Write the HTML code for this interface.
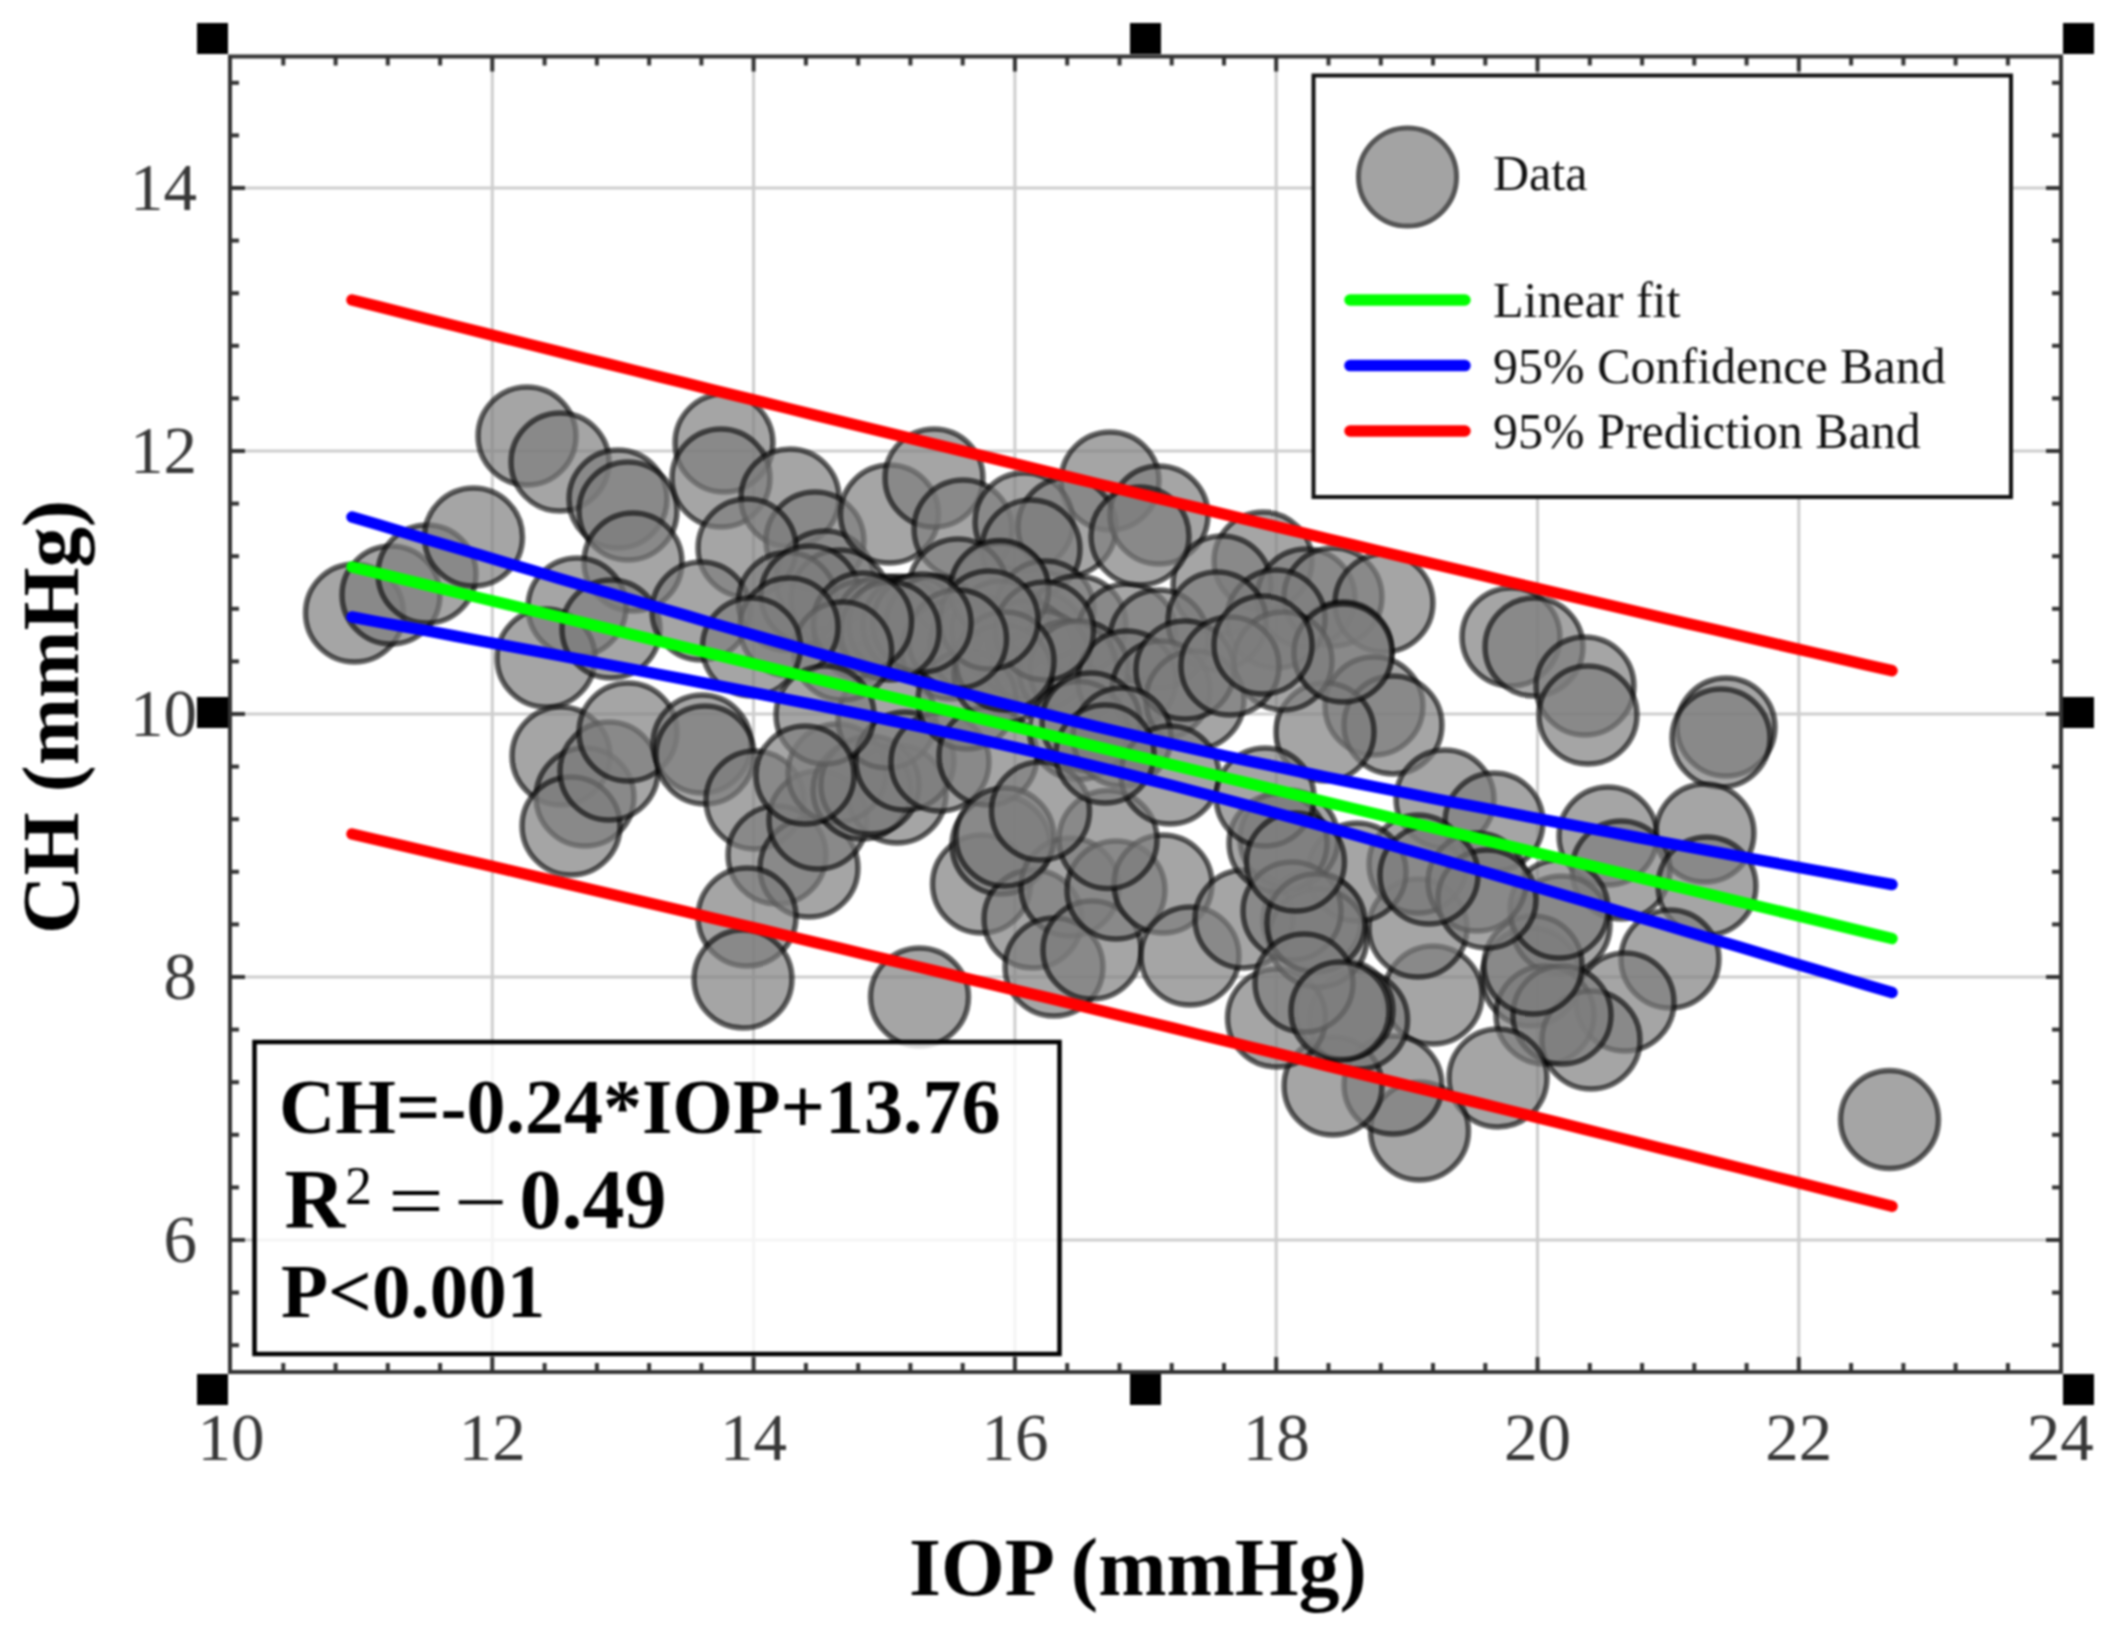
<!DOCTYPE html>
<html><head><meta charset="utf-8"><title>CH vs IOP</title>
<style>html,body{margin:0;padding:0;background:#fff;overflow:hidden}svg{display:block}#w{filter:blur(1px)}
text{font-family:"Liberation Serif","Times New Roman",serif}</style></head>
<body><div id="w"><svg width="2120" height="1634" viewBox="0 0 2120 1634" xmlns="http://www.w3.org/2000/svg">
<rect width="2120" height="1634" fill="#fff"/>
<g stroke="#cdcdcd" stroke-width="3"><line x1="492.3" y1="56.5" x2="492.3" y2="1372"/><line x1="753.6" y1="56.5" x2="753.6" y2="1372"/><line x1="1014.9" y1="56.5" x2="1014.9" y2="1372"/><line x1="1276.2" y1="56.5" x2="1276.2" y2="1372"/><line x1="1537.5" y1="56.5" x2="1537.5" y2="1372"/><line x1="1798.8" y1="56.5" x2="1798.8" y2="1372"/><line x1="230" y1="1240.0" x2="2061" y2="1240.0"/><line x1="230" y1="977.0" x2="2061" y2="977.0"/><line x1="230" y1="714.0" x2="2061" y2="714.0"/><line x1="230" y1="451.0" x2="2061" y2="451.0"/><line x1="230" y1="188.0" x2="2061" y2="188.0"/></g>
<g fill="#7c7c7c" fill-opacity="0.69" stroke="#000" stroke-opacity="0.6" stroke-width="5.5"><circle cx="354.5" cy="613" r="49.0"/><circle cx="391" cy="595" r="49.0"/><circle cx="427" cy="574" r="49.0"/><circle cx="473.5" cy="537" r="49.0"/><circle cx="527" cy="436" r="49.0"/><circle cx="560" cy="462" r="49.0"/><circle cx="618" cy="499" r="49.0"/><circle cx="628" cy="511" r="49.0"/><circle cx="633" cy="562" r="49.0"/><circle cx="577" cy="607" r="49.0"/><circle cx="546" cy="658" r="49.0"/><circle cx="611" cy="629" r="49.0"/><circle cx="724" cy="443" r="49.0"/><circle cx="721" cy="478" r="49.0"/><circle cx="790" cy="498" r="49.0"/><circle cx="815" cy="541" r="49.0"/><circle cx="825" cy="580" r="49.0"/><circle cx="840" cy="599" r="49.0"/><circle cx="747" cy="548" r="49.0"/><circle cx="701" cy="611" r="49.0"/><circle cx="889.5" cy="514" r="49.0"/><circle cx="934" cy="478" r="49.0"/><circle cx="963" cy="529" r="49.0"/><circle cx="1110" cy="481" r="49.0"/><circle cx="1024" cy="522" r="49.0"/><circle cx="1067" cy="527" r="49.0"/><circle cx="1031" cy="549" r="49.0"/><circle cx="1000" cy="592" r="49.0"/><circle cx="958" cy="588" r="49.0"/><circle cx="1159" cy="515" r="49.0"/><circle cx="1263" cy="561" r="49.0"/><circle cx="1222" cy="585" r="49.0"/><circle cx="1306" cy="598" r="49.0"/><circle cx="1333" cy="597" r="49.0"/><circle cx="1384" cy="603" r="49.0"/><circle cx="1511" cy="637" r="49.0"/><circle cx="1534" cy="647" r="49.0"/><circle cx="1585" cy="686" r="49.0"/><circle cx="1588" cy="715" r="49.0"/><circle cx="1726" cy="727" r="49.0"/><circle cx="1721" cy="738" r="49.0"/><circle cx="1343" cy="651" r="49.0"/><circle cx="1374" cy="706" r="49.0"/><circle cx="1393" cy="725" r="49.0"/><circle cx="1325" cy="732" r="49.0"/><circle cx="1445" cy="799" r="49.0"/><circle cx="1494" cy="822" r="49.0"/><circle cx="1608" cy="836" r="49.0"/><circle cx="1705" cy="833" r="49.0"/><circle cx="1621" cy="870" r="49.0"/><circle cx="1707" cy="886" r="49.0"/><circle cx="1670" cy="959" r="49.0"/><circle cx="1531" cy="977" r="49.0"/><circle cx="1561" cy="925" r="49.0"/><circle cx="1625" cy="1002" r="49.0"/><circle cx="1545" cy="1015" r="49.0"/><circle cx="1591" cy="1040" r="49.0"/><circle cx="1562" cy="1015" r="49.0"/><circle cx="1533" cy="965" r="49.0"/><circle cx="1559" cy="909" r="49.0"/><circle cx="1498" cy="1078" r="49.0"/><circle cx="1433" cy="995" r="49.0"/><circle cx="1419.5" cy="1131" r="49.0"/><circle cx="1393" cy="1085" r="49.0"/><circle cx="1333" cy="1086" r="49.0"/><circle cx="1358.6" cy="1020" r="49.0"/><circle cx="1344" cy="1010" r="49.0"/><circle cx="1312" cy="920" r="49.0"/><circle cx="1418" cy="928" r="49.0"/><circle cx="1418" cy="864" r="49.0"/><circle cx="1477" cy="882" r="49.0"/><circle cx="1357" cy="872" r="49.0"/><circle cx="1889.5" cy="1119.5" r="49.0"/><circle cx="561" cy="756" r="49.0"/><circle cx="585" cy="797" r="49.0"/><circle cx="571" cy="826" r="49.0"/><circle cx="609" cy="771" r="49.0"/><circle cx="628" cy="732" r="49.0"/><circle cx="702" cy="744" r="49.0"/><circle cx="705" cy="755" r="49.0"/><circle cx="755" cy="800" r="49.0"/><circle cx="777" cy="855" r="49.0"/><circle cx="809" cy="868" r="49.0"/><circle cx="818" cy="820" r="49.0"/><circle cx="747" cy="917" r="49.0"/><circle cx="743" cy="979" r="49.0"/><circle cx="919.5" cy="997" r="49.0"/><circle cx="897" cy="794" r="49.0"/><circle cx="981.5" cy="884" r="49.0"/><circle cx="1001" cy="845" r="49.0"/><circle cx="1033" cy="919" r="49.0"/><circle cx="1070" cy="887" r="49.0"/><circle cx="1054" cy="967" r="49.0"/><circle cx="1092" cy="950" r="49.0"/><circle cx="1116" cy="890" r="49.0"/><circle cx="1163" cy="884" r="49.0"/><circle cx="1190" cy="956" r="49.0"/><circle cx="1244" cy="919" r="49.0"/><circle cx="1276.5" cy="1018" r="49.0"/><circle cx="1289" cy="839" r="49.0"/><circle cx="1318" cy="938" r="49.0"/><circle cx="1278" cy="843" r="49.0"/><circle cx="1292" cy="911" r="49.0"/><circle cx="1316" cy="923" r="49.0"/><circle cx="1304" cy="983" r="49.0"/><circle cx="1340" cy="1011" r="49.0"/><circle cx="1487" cy="899" r="49.0"/><circle cx="1429" cy="875" r="49.0"/><circle cx="787.5" cy="601.5" r="49.0"/><circle cx="810" cy="595" r="49.0"/><circle cx="863" cy="630" r="49.0"/><circle cx="885" cy="625" r="49.0"/><circle cx="898" cy="625" r="49.0"/><circle cx="912" cy="625" r="49.0"/><circle cx="935" cy="625" r="49.0"/><circle cx="951" cy="650" r="49.0"/><circle cx="979" cy="645" r="49.0"/><circle cx="1003" cy="650" r="49.0"/><circle cx="1037" cy="640" r="49.0"/><circle cx="1045" cy="610" r="49.0"/><circle cx="1077" cy="625" r="49.0"/><circle cx="1127" cy="633" r="49.0"/><circle cx="1159" cy="639" r="49.0"/><circle cx="1276" cy="619" r="49.0"/><circle cx="1217" cy="621" r="49.0"/><circle cx="1283" cy="661" r="49.0"/><circle cx="1343" cy="653" r="49.0"/><circle cx="1001" cy="630" r="49.0"/><circle cx="1025" cy="650" r="49.0"/><circle cx="1041" cy="660" r="49.0"/><circle cx="1068" cy="670" r="49.0"/><circle cx="1079" cy="670" r="49.0"/><circle cx="1127" cy="680" r="49.0"/><circle cx="1161" cy="690" r="49.0"/><circle cx="1195" cy="700" r="49.0"/><circle cx="999.5" cy="589.5" r="49.0"/><circle cx="837" cy="773" r="49.0"/><circle cx="862" cy="790" r="49.0"/><circle cx="870" cy="785" r="49.0"/><circle cx="887" cy="719" r="49.0"/><circle cx="905" cy="761" r="49.0"/><circle cx="940" cy="762" r="49.0"/><circle cx="967" cy="700" r="49.0"/><circle cx="988" cy="756" r="49.0"/><circle cx="1003" cy="674" r="49.0"/><circle cx="1005" cy="837" r="49.0"/><circle cx="1078.5" cy="730.5" r="49.0"/><circle cx="1108" cy="839.5" r="49.0"/><circle cx="1040.5" cy="811" r="49.0"/><circle cx="1044.5" cy="631" r="49.0"/><circle cx="1005" cy="661" r="49.0"/><circle cx="989" cy="620" r="49.0"/><circle cx="957.5" cy="639" r="49.0"/><circle cx="922" cy="623" r="49.0"/><circle cx="890" cy="631" r="49.0"/><circle cx="862.5" cy="622" r="49.0"/><circle cx="842.6" cy="651" r="49.0"/><circle cx="789" cy="627" r="49.0"/><circle cx="751.5" cy="647" r="49.0"/><circle cx="1185" cy="670" r="49.0"/><circle cx="1230" cy="666" r="49.0"/><circle cx="1263" cy="645" r="49.0"/><circle cx="1091" cy="722" r="49.0"/><circle cx="1122" cy="737" r="49.0"/><circle cx="1170" cy="775" r="49.0"/><circle cx="1105" cy="754" r="49.0"/><circle cx="1265" cy="797" r="49.0"/><circle cx="1295.5" cy="862" r="49.0"/><circle cx="825" cy="715" r="49.0"/><circle cx="805" cy="775" r="49.0"/><circle cx="1140" cy="536" r="49.0"/></g>
<g fill="none" stroke-width="11.5" stroke-linecap="round" stroke-linejoin="round">
<polyline stroke="#ff0000" points="352.0,300.0 377.7,306.4 403.3,312.9 429.0,319.3 454.7,325.8 480.3,332.2 506.0,338.6 531.7,345.0 557.3,351.4 583.0,357.8 608.7,364.2 634.3,370.5 660.0,376.9 685.7,383.2 711.3,389.6 737.0,395.9 762.7,402.2 788.3,408.5 814.0,414.8 839.7,421.1 865.3,427.4 891.0,433.7 916.7,439.9 942.3,446.2 968.0,452.4 993.7,458.7 1019.3,464.9 1045.0,471.1 1070.7,477.3 1096.3,483.5 1122.0,489.7 1147.7,495.9 1173.3,502.0 1199.0,508.2 1224.7,514.3 1250.3,520.5 1276.0,526.6 1301.7,532.7 1327.3,538.8 1353.0,544.9 1378.7,551.0 1404.3,557.1 1430.0,563.1 1455.7,569.2 1481.3,575.2 1507.0,581.3 1532.7,587.3 1558.3,593.3 1584.0,599.3 1609.7,605.3 1635.3,611.3 1661.0,617.3 1686.7,623.3 1712.3,629.2 1738.0,635.2 1763.7,641.1 1789.3,647.1 1815.0,653.0 1840.7,658.9 1866.3,664.8 1892.0,670.7"/>
<polyline stroke="#ff0000" points="352.0,834.0 377.7,840.0 403.3,845.9 429.0,851.8 454.7,857.8 480.3,863.7 506.0,869.7 531.7,875.7 557.3,881.7 583.0,887.7 608.7,893.7 634.3,899.7 660.0,905.7 685.7,911.7 711.3,917.8 737.0,923.8 762.7,929.9 788.3,936.0 814.0,942.1 839.7,948.2 865.3,954.3 891.0,960.4 916.7,966.5 942.3,972.6 968.0,978.8 993.7,984.9 1019.3,991.1 1045.0,997.2 1070.7,1003.4 1096.3,1009.6 1122.0,1015.8 1147.7,1022.0 1173.3,1028.2 1199.0,1034.5 1224.7,1040.7 1250.3,1047.0 1276.0,1053.2 1301.7,1059.5 1327.3,1065.8 1353.0,1072.1 1378.7,1078.4 1404.3,1084.7 1430.0,1091.0 1455.7,1097.3 1481.3,1103.6 1507.0,1110.0 1532.7,1116.3 1558.3,1122.7 1584.0,1129.1 1609.7,1135.5 1635.3,1141.9 1661.0,1148.3 1686.7,1154.7 1712.3,1161.1 1738.0,1167.5 1763.7,1174.0 1789.3,1180.4 1815.0,1186.9 1840.7,1193.3 1866.3,1199.8 1892.0,1206.3"/>
<polyline stroke="#0000ff" points="352.0,517.0 377.7,524.6 403.3,532.3 429.0,539.9 454.7,547.5 480.3,555.1 506.0,562.7 531.7,570.3 557.3,577.9 583.0,585.5 608.7,593.0 634.3,600.5 660.0,608.0 685.7,615.4 711.3,622.9 737.0,630.3 762.7,637.6 788.3,644.9 814.0,652.2 839.7,659.4 865.3,666.5 891.0,673.6 916.7,680.6 942.3,687.5 968.0,694.3 993.7,701.0 1019.3,707.5 1045.0,714.0 1070.7,720.3 1096.3,726.6 1122.0,732.6 1147.7,738.6 1173.3,744.4 1199.0,750.1 1224.7,755.8 1250.3,761.3 1276.0,766.7 1301.7,772.0 1327.3,777.3 1353.0,782.5 1378.7,787.6 1404.3,792.7 1430.0,797.8 1455.7,802.8 1481.3,807.7 1507.0,812.7 1532.7,817.6 1558.3,822.5 1584.0,827.3 1609.7,832.2 1635.3,837.0 1661.0,841.8 1686.7,846.6 1712.3,851.3 1738.0,856.1 1763.7,860.9 1789.3,865.6 1815.0,870.3 1840.7,875.0 1866.3,879.8 1892.0,884.5"/>
<polyline stroke="#0000ff" points="352.0,617.0 377.7,621.8 403.3,626.5 429.0,631.2 454.7,636.0 480.3,640.8 506.0,645.6 531.7,650.4 557.3,655.2 583.0,660.0 608.7,664.8 634.3,669.7 660.0,674.6 685.7,679.5 711.3,684.5 737.0,689.5 762.7,694.5 788.3,699.6 814.0,704.7 839.7,709.9 865.3,715.2 891.0,720.5 916.7,725.9 942.3,731.4 968.0,736.9 993.7,742.6 1019.3,748.4 1045.0,754.3 1070.7,760.4 1096.3,766.6 1122.0,772.9 1147.7,779.3 1173.3,785.8 1199.0,792.5 1224.7,799.3 1250.3,806.1 1276.0,813.1 1301.7,820.1 1327.3,827.3 1353.0,834.4 1378.7,841.7 1404.3,849.0 1430.0,856.3 1455.7,863.7 1481.3,871.1 1507.0,878.6 1532.7,886.0 1558.3,893.5 1584.0,901.1 1609.7,908.6 1635.3,916.2 1661.0,923.8 1686.7,931.4 1712.3,939.0 1738.0,946.6 1763.7,954.2 1789.3,961.9 1815.0,969.5 1840.7,977.2 1866.3,984.9 1892.0,992.5"/>
<polyline stroke="#00ff00" points="352.0,567.0 377.7,573.2 403.3,579.4 429.0,585.6 454.7,591.8 480.3,598.0 506.0,604.1 531.7,610.3 557.3,616.5 583.0,622.7 608.7,628.9 634.3,635.1 660.0,641.3 685.7,647.5 711.3,653.7 737.0,659.9 762.7,666.1 788.3,672.3 814.0,678.5 839.7,684.6 865.3,690.8 891.0,697.0 916.7,703.2 942.3,709.4 968.0,715.6 993.7,721.8 1019.3,728.0 1045.0,734.2 1070.7,740.4 1096.3,746.6 1122.0,752.8 1147.7,758.9 1173.3,765.1 1199.0,771.3 1224.7,777.5 1250.3,783.7 1276.0,789.9 1301.7,796.1 1327.3,802.3 1353.0,808.5 1378.7,814.7 1404.3,820.9 1430.0,827.0 1455.7,833.2 1481.3,839.4 1507.0,845.6 1532.7,851.8 1558.3,858.0 1584.0,864.2 1609.7,870.4 1635.3,876.6 1661.0,882.8 1686.7,889.0 1712.3,895.2 1738.0,901.4 1763.7,907.5 1789.3,913.7 1815.0,919.9 1840.7,926.1 1866.3,932.3 1892.0,938.5"/>
</g>
<g stroke="#333" stroke-width="4"><line x1="283.3" y1="1372" x2="283.3" y2="1363"/><line x1="283.3" y1="56.5" x2="283.3" y2="65.5"/><line x1="335.6" y1="1372" x2="335.6" y2="1363"/><line x1="335.6" y1="56.5" x2="335.6" y2="65.5"/><line x1="387.8" y1="1372" x2="387.8" y2="1363"/><line x1="387.8" y1="56.5" x2="387.8" y2="65.5"/><line x1="440.1" y1="1372" x2="440.1" y2="1363"/><line x1="440.1" y1="56.5" x2="440.1" y2="65.5"/><line x1="492.3" y1="1372" x2="492.3" y2="1357"/><line x1="492.3" y1="56.5" x2="492.3" y2="71.5"/><line x1="544.6" y1="1372" x2="544.6" y2="1363"/><line x1="544.6" y1="56.5" x2="544.6" y2="65.5"/><line x1="596.9" y1="1372" x2="596.9" y2="1363"/><line x1="596.9" y1="56.5" x2="596.9" y2="65.5"/><line x1="649.1" y1="1372" x2="649.1" y2="1363"/><line x1="649.1" y1="56.5" x2="649.1" y2="65.5"/><line x1="701.4" y1="1372" x2="701.4" y2="1363"/><line x1="701.4" y1="56.5" x2="701.4" y2="65.5"/><line x1="753.6" y1="1372" x2="753.6" y2="1357"/><line x1="753.6" y1="56.5" x2="753.6" y2="71.5"/><line x1="805.9" y1="1372" x2="805.9" y2="1363"/><line x1="805.9" y1="56.5" x2="805.9" y2="65.5"/><line x1="858.2" y1="1372" x2="858.2" y2="1363"/><line x1="858.2" y1="56.5" x2="858.2" y2="65.5"/><line x1="910.4" y1="1372" x2="910.4" y2="1363"/><line x1="910.4" y1="56.5" x2="910.4" y2="65.5"/><line x1="962.7" y1="1372" x2="962.7" y2="1363"/><line x1="962.7" y1="56.5" x2="962.7" y2="65.5"/><line x1="1014.9" y1="1372" x2="1014.9" y2="1357"/><line x1="1014.9" y1="56.5" x2="1014.9" y2="71.5"/><line x1="1067.2" y1="1372" x2="1067.2" y2="1363"/><line x1="1067.2" y1="56.5" x2="1067.2" y2="65.5"/><line x1="1119.5" y1="1372" x2="1119.5" y2="1363"/><line x1="1119.5" y1="56.5" x2="1119.5" y2="65.5"/><line x1="1171.7" y1="1372" x2="1171.7" y2="1363"/><line x1="1171.7" y1="56.5" x2="1171.7" y2="65.5"/><line x1="1224.0" y1="1372" x2="1224.0" y2="1363"/><line x1="1224.0" y1="56.5" x2="1224.0" y2="65.5"/><line x1="1276.2" y1="1372" x2="1276.2" y2="1357"/><line x1="1276.2" y1="56.5" x2="1276.2" y2="71.5"/><line x1="1328.5" y1="1372" x2="1328.5" y2="1363"/><line x1="1328.5" y1="56.5" x2="1328.5" y2="65.5"/><line x1="1380.8" y1="1372" x2="1380.8" y2="1363"/><line x1="1380.8" y1="56.5" x2="1380.8" y2="65.5"/><line x1="1433.0" y1="1372" x2="1433.0" y2="1363"/><line x1="1433.0" y1="56.5" x2="1433.0" y2="65.5"/><line x1="1485.3" y1="1372" x2="1485.3" y2="1363"/><line x1="1485.3" y1="56.5" x2="1485.3" y2="65.5"/><line x1="1537.5" y1="1372" x2="1537.5" y2="1357"/><line x1="1537.5" y1="56.5" x2="1537.5" y2="71.5"/><line x1="1589.8" y1="1372" x2="1589.8" y2="1363"/><line x1="1589.8" y1="56.5" x2="1589.8" y2="65.5"/><line x1="1642.1" y1="1372" x2="1642.1" y2="1363"/><line x1="1642.1" y1="56.5" x2="1642.1" y2="65.5"/><line x1="1694.3" y1="1372" x2="1694.3" y2="1363"/><line x1="1694.3" y1="56.5" x2="1694.3" y2="65.5"/><line x1="1746.6" y1="1372" x2="1746.6" y2="1363"/><line x1="1746.6" y1="56.5" x2="1746.6" y2="65.5"/><line x1="1798.8" y1="1372" x2="1798.8" y2="1357"/><line x1="1798.8" y1="56.5" x2="1798.8" y2="71.5"/><line x1="1851.1" y1="1372" x2="1851.1" y2="1363"/><line x1="1851.1" y1="56.5" x2="1851.1" y2="65.5"/><line x1="1903.4" y1="1372" x2="1903.4" y2="1363"/><line x1="1903.4" y1="56.5" x2="1903.4" y2="65.5"/><line x1="1955.6" y1="1372" x2="1955.6" y2="1363"/><line x1="1955.6" y1="56.5" x2="1955.6" y2="65.5"/><line x1="2007.9" y1="1372" x2="2007.9" y2="1363"/><line x1="2007.9" y1="56.5" x2="2007.9" y2="65.5"/><line x1="230" y1="1345.2" x2="239" y2="1345.2"/><line x1="2061" y1="1345.2" x2="2052" y2="1345.2"/><line x1="230" y1="1292.6" x2="239" y2="1292.6"/><line x1="2061" y1="1292.6" x2="2052" y2="1292.6"/><line x1="230" y1="1240.0" x2="245" y2="1240.0"/><line x1="2061" y1="1240.0" x2="2046" y2="1240.0"/><line x1="230" y1="1187.4" x2="239" y2="1187.4"/><line x1="2061" y1="1187.4" x2="2052" y2="1187.4"/><line x1="230" y1="1134.8" x2="239" y2="1134.8"/><line x1="2061" y1="1134.8" x2="2052" y2="1134.8"/><line x1="230" y1="1082.2" x2="239" y2="1082.2"/><line x1="2061" y1="1082.2" x2="2052" y2="1082.2"/><line x1="230" y1="1029.6" x2="239" y2="1029.6"/><line x1="2061" y1="1029.6" x2="2052" y2="1029.6"/><line x1="230" y1="977.0" x2="245" y2="977.0"/><line x1="2061" y1="977.0" x2="2046" y2="977.0"/><line x1="230" y1="924.4" x2="239" y2="924.4"/><line x1="2061" y1="924.4" x2="2052" y2="924.4"/><line x1="230" y1="871.8" x2="239" y2="871.8"/><line x1="2061" y1="871.8" x2="2052" y2="871.8"/><line x1="230" y1="819.2" x2="239" y2="819.2"/><line x1="2061" y1="819.2" x2="2052" y2="819.2"/><line x1="230" y1="766.6" x2="239" y2="766.6"/><line x1="2061" y1="766.6" x2="2052" y2="766.6"/><line x1="230" y1="714.0" x2="245" y2="714.0"/><line x1="2061" y1="714.0" x2="2046" y2="714.0"/><line x1="230" y1="661.4" x2="239" y2="661.4"/><line x1="2061" y1="661.4" x2="2052" y2="661.4"/><line x1="230" y1="608.8" x2="239" y2="608.8"/><line x1="2061" y1="608.8" x2="2052" y2="608.8"/><line x1="230" y1="556.2" x2="239" y2="556.2"/><line x1="2061" y1="556.2" x2="2052" y2="556.2"/><line x1="230" y1="503.6" x2="239" y2="503.6"/><line x1="2061" y1="503.6" x2="2052" y2="503.6"/><line x1="230" y1="451.0" x2="245" y2="451.0"/><line x1="2061" y1="451.0" x2="2046" y2="451.0"/><line x1="230" y1="398.4" x2="239" y2="398.4"/><line x1="2061" y1="398.4" x2="2052" y2="398.4"/><line x1="230" y1="345.8" x2="239" y2="345.8"/><line x1="2061" y1="345.8" x2="2052" y2="345.8"/><line x1="230" y1="293.2" x2="239" y2="293.2"/><line x1="2061" y1="293.2" x2="2052" y2="293.2"/><line x1="230" y1="240.6" x2="239" y2="240.6"/><line x1="2061" y1="240.6" x2="2052" y2="240.6"/><line x1="230" y1="188.0" x2="245" y2="188.0"/><line x1="2061" y1="188.0" x2="2046" y2="188.0"/><line x1="230" y1="135.4" x2="239" y2="135.4"/><line x1="2061" y1="135.4" x2="2052" y2="135.4"/><line x1="230" y1="82.8" x2="239" y2="82.8"/><line x1="2061" y1="82.8" x2="2052" y2="82.8"/></g>
<rect x="230" y="56.5" width="1831" height="1315.5" fill="none" stroke="#333" stroke-width="4"/>
<g fill="#000"><rect x="197" y="23" width="31" height="31"/><rect x="1130" y="23" width="31" height="31"/><rect x="2063" y="23" width="31" height="31"/><rect x="197" y="697" width="31" height="31"/><rect x="2063" y="697" width="31" height="31"/><rect x="197" y="1374" width="31" height="31"/><rect x="1130" y="1374" width="31" height="31"/><rect x="2063" y="1374" width="31" height="31"/></g>
<g font-size="67" fill="#383838"><text x="231.0" y="1460" text-anchor="middle">10</text><text x="492.3" y="1460" text-anchor="middle">12</text><text x="753.6" y="1460" text-anchor="middle">14</text><text x="1014.9" y="1460" text-anchor="middle">16</text><text x="1276.2" y="1460" text-anchor="middle">18</text><text x="1537.5" y="1460" text-anchor="middle">20</text><text x="1798.8" y="1460" text-anchor="middle">22</text><text x="2060.2" y="1460" text-anchor="middle">24</text><text x="197" y="1262.0" text-anchor="end">6</text><text x="197" y="999.0" text-anchor="end">8</text><text x="197" y="736.0" text-anchor="end">10</text><text x="197" y="473.0" text-anchor="end">12</text><text x="197" y="210.0" text-anchor="end">14</text></g>
<text x="1138" y="1595" text-anchor="middle" font-size="82" font-weight="bold" fill="#000">IOP (mmHg)</text>
<text transform="translate(78,717) rotate(-90)" text-anchor="middle" font-size="81" font-weight="bold" fill="#000">CH (mmHg)</text>
<rect x="1313.5" y="75.5" width="697.5" height="421.5" fill="#fff" stroke="#111" stroke-width="4"/>
<circle cx="1407.5" cy="177" r="49.0" fill="#a3a3a3" stroke="#555" stroke-width="5"/>
<g stroke-width="11.5" stroke-linecap="round"><line x1="1350" y1="300" x2="1465" y2="300" stroke="#00ff00"/><line x1="1350" y1="365.6" x2="1465" y2="365.6" stroke="#0000ff"/><line x1="1350" y1="431" x2="1465" y2="431" stroke="#ff0000"/></g>
<g font-size="50" fill="#111"><text x="1493" y="190">Data</text><text x="1493" y="317">Linear fit</text><text x="1493" y="383">95% Confidence Band</text><text x="1493" y="448">95% Prediction Band</text></g>
<rect x="254.5" y="1042" width="805" height="312" fill="#fff" fill-opacity="0.78" stroke="#000" stroke-width="4.5"/>
<g font-size="78" font-weight="bold" fill="#000"><text x="279" y="1132.5">CH=-0.24*IOP+13.76</text><text x="284.5" y="1228" font-size="84">R</text><text x="519.5" y="1228" font-size="84">0.49</text><text x="281" y="1317" font-size="77">P&lt;0.001</text></g><g font-weight="normal" fill="#000"><text x="345" y="1203.5" font-size="54">2</text><text transform="translate(388,1228) scale(1.24,1)" font-size="80">=</text><text transform="translate(454,1229) scale(1.18,1)" font-size="80">−</text></g>
</svg></div></body></html>
